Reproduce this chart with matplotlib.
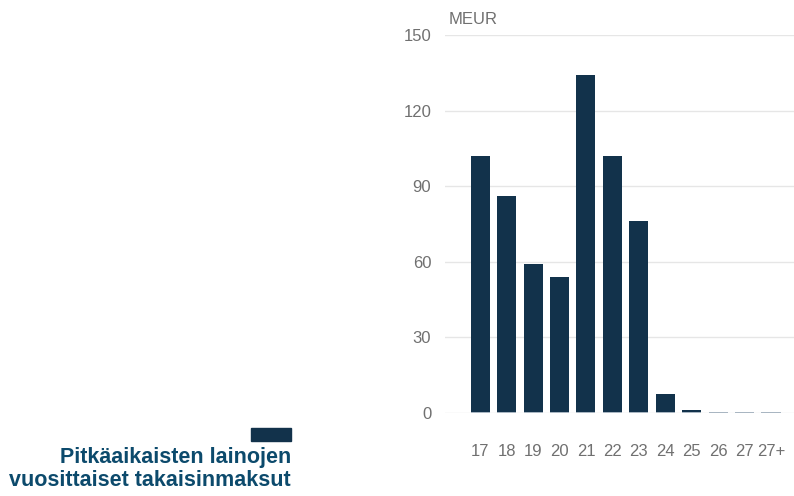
import matplotlib.pyplot as plt

# vuodet ja takaisinmaksut (MEUR)
years = ["17", "18", "19", "20", "21", "22", "23", "24", "25", "26", "27", "27+"]
repayments = [102, 86, 59, 54, 134, 102, 76, 7.5, 1, 0, 0, 0]
minor = [0.4, 0.5, 0.4, 0.4, 0.5, 0.4, 0.5, 0.5, 0.3, 0.4, 0.4, 0.4]
yticks = [0, 30, 60, 90, 120, 150]

dark = "#12324b"
light = "#a9b6c2"
textc = "#0c4a6c"
grey = "#707070"

plt.rcParams["font.family"] = ["Liberation Sans", "DejaVu Sans"]

fig = plt.figure(figsize=(7.94, 4.96), dpi=100)
ax = fig.add_axes([0.5605, 0.1673, 0.4395, 0.7621])

x = list(range(len(years)))
ax.bar(x, repayments, width=0.72, color=dark, zorder=3)
ax.bar(x, minor, width=0.72, color=light, zorder=4)

ax.set_xlim(-1.33, 11.87)
ax.set_ylim(0, 150)
ax.set_yticks(yticks)
ax.set_xticks(x)
ax.set_xticklabels(years)
ax.tick_params(axis="both", length=0, labelsize=12, colors=grey)
ax.tick_params(axis="y", pad=10)
ax.tick_params(axis="x", pad=22)
ax.grid(axis="y", color="#e6e6e6", linewidth=1, zorder=0)
for s in ax.spines.values():
    s.set_visible(False)

fig.text(449 / 794, 1 - 19 / 496, "MEUR", fontsize=12, color=grey,
         ha="left", va="center")

# selite vasemmalla
fig.patches.append(plt.Rectangle((251 / 794, 1 - 441 / 496), 40 / 794, 13 / 496,
                                 transform=fig.transFigure, color=dark))
fig.text(291 / 794, 1 - 458 / 496, "Pitkäaikaisten lainojen", fontsize=15.5,
         fontweight="bold", color=textc, ha="right", va="center")
fig.text(291 / 794, 1 - 481 / 496, "vuosittaiset takaisinmaksut", fontsize=15.5,
         fontweight="bold", color=textc, ha="right", va="center")

fig.savefig("out.png", dpi=100)
